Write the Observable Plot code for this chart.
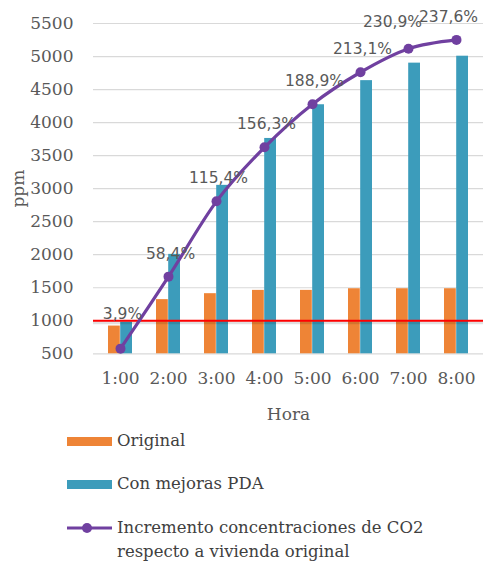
<!DOCTYPE html>
<html>
<head>
<meta charset="utf-8">
<script src="https://cdn.jsdelivr.net/npm/d3@7"></script>
<script src="https://cdn.jsdelivr.net/npm/@observablehq/plot@0.6"></script>
<style>
  html, body { margin: 0; padding: 0; background: #fff; }
  #wrap { width: 488px; height: 564px; position: relative; overflow: hidden; }
  #legend { position: absolute; left: 0; top: 430px; width: 488px; font-family: "DejaVu Serif", serif; font-size: 16.5px; color: #404040; }
  .item { position: absolute; left: 67px; display: flex; align-items: flex-start; }
  .sw { width: 45px; height: 9px; margin-right: 5px; }
  .txt { line-height: 24px; }
</style>
</head>
<body>
<div id="wrap">
  <div id="chart"></div>
  <div id="legend"></div>
</div>
<script>
// ---- data ----
const hours = ["1:00", "2:00", "3:00", "4:00", "5:00", "6:00", "7:00", "8:00"];
const original = [920, 1320, 1410, 1460, 1460, 1485, 1485, 1485];
const mejoras = [980, 2005, 3050, 3760, 4270, 4635, 4900, 5005];
const incremento = [3.9, 58.4, 115.4, 156.3, 188.9, 213.1, 230.9, 237.6];
const yTicks = [500, 1000, 1500, 2000, 2500, 3000, 3500, 4000, 4500, 5000, 5500];
const limite = [1000];
const pctAxisDomain = [0, 250];      // hidden secondary axis (%)
const seriesNames = ["Original", "Con mejoras PDA", "Incremento concentraciones de CO2 respecto a vivienda original"];

const cOrange = "#EE8436", cTeal = "#3C9CBB", cPurple = "#7040A0", cRed = "#FF0000";

const rows = hours.map((h, i) => ({hora: h, original: original[i], mejoras: mejoras[i], incremento: incremento[i]}));
const pctScale = d3.scaleLinear().domain(pctAxisDomain).range([yTicks[0], yTicks[yTicks.length - 1]]);
const fmt = v => v.toFixed(1).replace(".", ",") + "%";
const yLine = d => pctScale(d.incremento);

const labelFont = {fontFamily: "DejaVu Sans, sans-serif", fontSize: 15.5, fill: "#595959"};

const chart = Plot.plot({
  width: 488,
  height: 430,
  marginLeft: 93,
  marginRight: 5,
  marginTop: 23,
  marginBottom: 76.7,
  style: {fontFamily: "DejaVu Serif, serif", fontSize: "17px", color: "#595959", background: "#fff"},
  x: {domain: hours, paddingInner: 0.5, paddingOuter: 0.25},
  y: {domain: [yTicks[0], yTicks[yTicks.length - 1]]},
  marks: [
    Plot.gridY(yTicks, {stroke: "#d9d9d9", strokeOpacity: 1, strokeWidth: 1.2}),
    Plot.axisY(yTicks, {tickSize: 0, tickPadding: 20, tickFormat: d => String(d), label: "ppm", labelArrow: "none", labelAnchor: "center", labelOffset: 82, fontSize: 17}),
    Plot.axisX({tickSize: 0, tickPadding: 18, label: "Hora", labelArrow: "none", labelAnchor: "center", labelOffset: 66, fontSize: 17}),
    Plot.barY(rows, {x: "hora", y1: yTicks[0], y2: "original", fill: cOrange, insetRight: 12.2}),
    Plot.barY(rows, {x: "hora", y1: yTicks[0], y2: "mejoras", fill: cTeal, insetLeft: 12.2}),
    Plot.ruleY(limite, {stroke: "#000", strokeOpacity: 0.12, strokeWidth: 3, dy: 2}),
    Plot.ruleY(limite, {stroke: cRed, strokeWidth: 2}),
    Plot.line(rows, {x: "hora", y: yLine, stroke: cPurple, strokeWidth: 3.2, curve: "monotone-x"}),
    Plot.dot(rows, {x: "hora", y: yLine, r: 5, fill: cPurple}),
    Plot.link(rows.filter(d => d.hora === "7:00"), {x1: "hora", x2: "hora", y1: yLine, y2: yLine, dx: -6, dy: -13, stroke: "#a0a0a0", strokeWidth: 1}),
    Plot.text(rows.filter((d, i) => i === 0), {x: "hora", y: yLine, text: d => fmt(d.incremento), dy: -35, dx: 2, ...labelFont}),
    Plot.text(rows.filter((d, i) => i > 0 && i < 6), {x: "hora", y: yLine, text: d => fmt(d.incremento), dy: -23, dx: 2, ...labelFont}),
    Plot.text(rows.filter((d, i) => i === 6), {x: "hora", y: yLine, text: d => fmt(d.incremento), dy: -27, dx: -16, ...labelFont}),
    Plot.text(rows.filter((d, i) => i === 7), {x: "hora", y: yLine, text: d => fmt(d.incremento), dy: -23, dx: -8, ...labelFont})
  ]
});
document.getElementById("chart").appendChild(chart);

// ---- legend ----
const legend = document.getElementById("legend");
const items = [
  {name: seriesNames[0], color: cOrange, type: "bar", top: -1},
  {name: seriesNames[1], color: cTeal, type: "bar", top: 42},
  {name: seriesNames[2], color: cPurple, type: "line", top: 86}
];
items.forEach(it => {
  const div = document.createElement("div");
  div.className = "item";
  div.style.top = it.top + "px";
  let sw;
  if (it.type === "bar") {
    sw = `<div class="sw" style="background:${it.color};margin-top:7.5px"></div>`;
  } else {
    sw = `<svg width="45" height="24" style="margin-right:5px;flex:none"><line x1="0" y1="12" x2="45" y2="12" stroke="${it.color}" stroke-width="3.2"/><circle cx="20" cy="12" r="5" fill="${it.color}"/></svg>`;
  }
  const words = it.name.split(" ");
  const txt = it.type === "line" ? words.slice(0, 4).join(" ") + "<br>" + words.slice(4).join(" ") : it.name;
  div.innerHTML = sw + `<div class="txt">${txt}</div>`;
  legend.appendChild(div);
});
</script>
</body>
</html>
